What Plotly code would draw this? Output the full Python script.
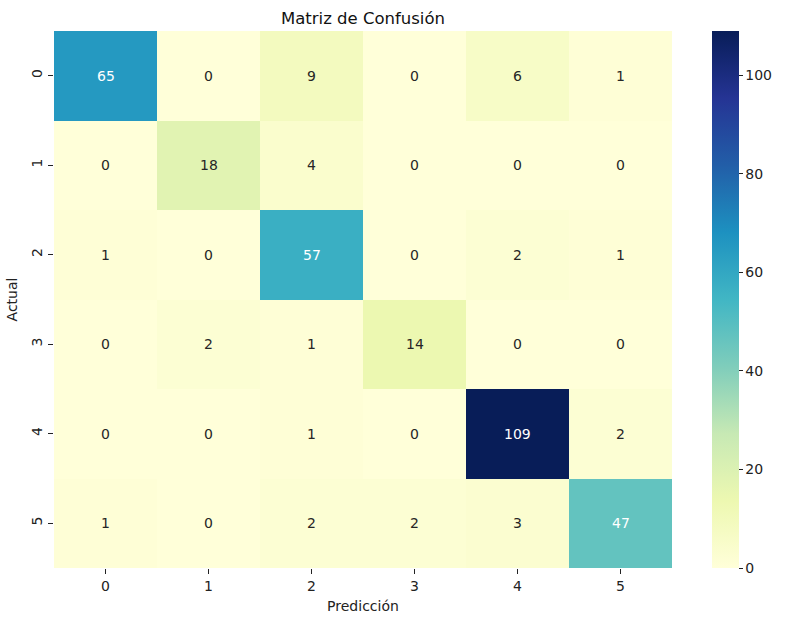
import plotly.graph_objects as go

labels = ["0", "1", "2", "3", "4", "5"]
matrix = [
    [65, 0, 9, 0, 6, 1],
    [0, 18, 4, 0, 0, 0],
    [1, 0, 57, 0, 2, 1],
    [0, 2, 1, 14, 0, 0],
    [0, 0, 1, 0, 109, 2],
    [1, 0, 2, 2, 3, 47],
]
title = "Matriz de Confusión"
x_title = "Predicción"
y_title = "Actual"
cbar_ticks = [0, 20, 40, 60, 80, 100]

ylgnbu = ["#ffffd9", "#edf8b1", "#c7e9b4", "#7fcdbb", "#41b6c4",
          "#1d91c0", "#225ea8", "#253494", "#081d58"]
cs = [[i / (len(ylgnbu) - 1), c] for i, c in enumerate(ylgnbu)]

zmax = max(max(r) for r in matrix)

fig = go.Figure(go.Heatmap(
    z=matrix, x=labels, y=labels, colorscale=cs, zmin=0, zmax=zmax,
    hoverinfo="skip",
    colorbar=dict(
        x=1.0646, xanchor="left", y=0.5, yanchor="middle", len=1, lenmode="fraction",
        thickness=27, outlinewidth=0, tickvals=cbar_ticks, ticks="outside",
        ticklen=4, tickcolor="#222", tickfont=dict(size=14, color="#222"),
        xpad=0, ypad=0,
    ),
))

anns = []
for i, row in enumerate(matrix):
    for j, v in enumerate(row):
        col = "white" if v / zmax > 0.42 else "#262626"
        anns.append(dict(x=labels[j], y=labels[i], text=str(v), showarrow=False,
                         font=dict(size=14, color=col)))
fig.update_layout(annotations=anns)

fig.update_layout(
    width=785, height=624,
    margin=dict(l=53, r=113, t=31, b=53),
    paper_bgcolor="white", plot_bgcolor="white",
    font=dict(family="DejaVu Sans", size=14, color="#222"),
    title=dict(text=title, x=0.5, xref="paper", xanchor="center",
               y=1 - 18.5 / 624, yref="container", yanchor="middle",
               font=dict(size=16.5, color="#111")),
    xaxis=dict(title=dict(text=x_title, standoff=8, font=dict(size=14)),
               ticks="outside", ticklen=5, tickcolor="#222",
               showgrid=False, zeroline=False, showline=False),
    yaxis=dict(title=dict(text=y_title, standoff=8, font=dict(size=14)),
               autorange="reversed", ticks="outside", ticklen=5, tickcolor="#222",
               tickangle=-90, showgrid=False, zeroline=False, showline=False),
)

fig.write_html("out.html")
